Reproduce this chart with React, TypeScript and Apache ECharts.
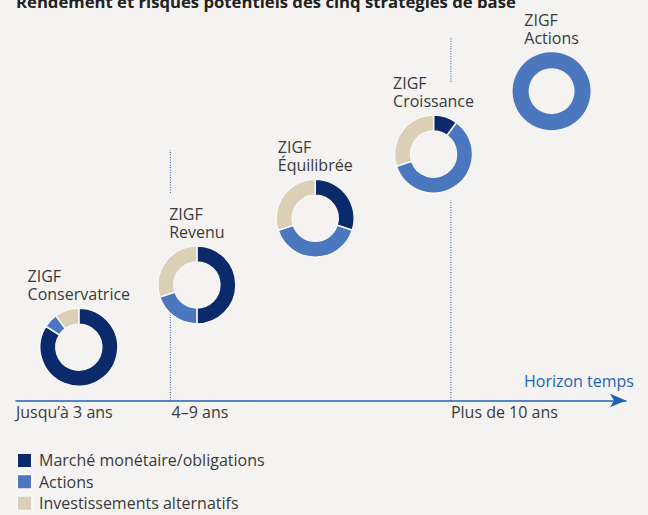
import React, { useEffect, useRef } from "react";
import * as echarts from "echarts";

// ---- Data ----
const strategies = ["Conservatrice", "Revenu", "Équilibrée", "Croissance", "Actions"];
const assetClasses = ["Marché monétaire/obligations", "Actions", "Investissements alternatifs"];
const moneyMarketBonds = [84, 50, 30, 10, 0];
const equities = [6, 20, 40, 60, 100];
const alternatives = [10, 30, 30, 30, 0];
// position of each strategy on the time horizon (x) and risk/return level (y)
const horizonPos = [10.3, 29.65, 49.05, 68.45, 87.8];
const riskLevel = [14.4, 31.2, 49.2, 66.5, 83.5];
const tickLabels = ["Jusqu’à 3 ans", "4–9 ans", "Plus de 10 ans"];
const tickValues = [0, 25.5, 71.3];
// dotted separators: [x, yFrom, yTo]
const separators = [
  [25.3, 0, 23.1],
  [25.3, 56.0, 67.6],
  [71.3, 0, 54.1],
  [71.3, 86.0, 97.8],
];

const BG = "#f4f3f1";
const COLORS = ["#0b2a6c", "#4a77bd", "#dbcfb6"];
const TEXT = "#3a3a3a";
const AXIS_BLUE = "#1f63b5";
const FONT = '"Open Sans", "Noto Sans", sans-serif';

function measure(text: string, font: string): number {
  const c = document.createElement("canvas");
  const ctx = c.getContext("2d")!;
  ctx.font = font;
  return ctx.measureText(text).width;
}

export default function App() {
  const ref = useRef<HTMLDivElement>(null);

  useEffect(() => {
    if (!ref.current) return;
    const chart = echarts.init(ref.current, null, { renderer: "svg" });

    const separatorSeries = separators.map((s, i) => ({
      type: "line" as const,
      name: `sep${i}`,
      data: [
        [s[0], s[1]],
        [s[0], s[2]],
      ],
      symbol: "none",
      silent: true,
      lineStyle: { color: "#2d4f8f", width: 1, type: [1, 1.5] as any },
      z: 1,
    }));

    chart.setOption({
      animation: false,
      backgroundColor: BG,
      grid: { left: 16, right: 22, top: 30, bottom: 114.5 },
      xAxis: {
        type: "value",
        min: 0,
        max: 100,
        splitLine: { show: false },
        axisTick: { show: false },
        axisLine: {
          show: true,
          symbol: ["none", "arrow"],
          symbolSize: [10, 16],
          lineStyle: { color: AXIS_BLUE, width: 1.5 },
        },
        axisLabel: {
          customValues: tickValues,
          formatter: (v: number) => {
            let best = 0;
            tickValues.forEach((t, i) => {
              if (Math.abs(t - v) < Math.abs(tickValues[best] - v)) best = i;
            });
            return tickLabels[best];
          },
          align: "left",
          color: TEXT,
          fontSize: 16,
          fontFamily: FONT,
          margin: 3,
          showMinLabel: true,
          showMaxLabel: true,
        },
        name: "Horizon temps",
        nameLocation: "end",
        nameGap: 8,
        nameTextStyle: {
          color: AXIS_BLUE,
          fontSize: 16,
          fontFamily: FONT,
          align: "right",
          verticalAlign: "bottom",
          padding: [0, 0, 12, 0],
        },
      },
      yAxis: { type: "value", min: 0, max: 100, show: false },
      legend: {
        orient: "vertical",
        left: 16,
        bottom: 3.3,
        height: 70,
        padding: 0,
        icon: "rect",
        itemWidth: 15,
        itemHeight: 15,
        itemGap: 4.4,
        selectedMode: false,
        data: assetClasses,
        textStyle: {
          color: TEXT,
          fontSize: 16,
          lineHeight: 15,
          fontFamily: FONT,
          padding: [0, 0, 0, 2],
        },
      },
      series: separatorSeries,
    });

    const centers = strategies.map((_, i) =>
      chart.convertToPixel({ gridIndex: 0 }, [horizonPos[i], riskLevel[i]]) as number[]
    );

    const pies = strategies.map((name, i) => {
      const vals = [moneyMarketBonds[i], equities[i], alternatives[i]];
      const data = assetClasses
        .map((cls, k) => ({ name: cls, value: vals[k], itemStyle: { color: COLORS[k] } }))
        .filter((d) => d.value > 0);
      return {
        type: "pie" as const,
        name: `ZIGF ${name}`,
        center: centers[i],
        radius: [23, 39],
        startAngle: 90,
        clockwise: true,
        silent: true,
        label: { show: false },
        labelLine: { show: false },
        itemStyle: { borderColor: "#f7f7f5", borderWidth: data.length > 1 ? 1.5 : 0 },
        data,
      };
    });

    const labelFont = `16px ${FONT}`;
    const labels = strategies.map((name, i) => {
      const w = Math.max(measure("ZIGF", labelFont), measure(name, labelFont));
      return {
        type: "text",
        x: centers[i][0] - w / 2,
        y: centers[i][1] - 44,
        silent: true,
        style: {
          text: `ZIGF\n${name}`,
          font: labelFont,
          fill: TEXT,
          lineHeight: 18,
          align: "left",
          verticalAlign: "bottom",
        },
      };
    });

    chart.setOption({
      series: [...separatorSeries, ...pies],
      graphic: [
        {
          type: "text",
          x: 16,
          y: 1,
          silent: true,
          style: {
            text: "Rendement et risques potentiels des cinq stratégies de base",
            font: `bold 16.7px ${FONT}`,
            fill: "#222222",
            verticalAlign: "middle",
          },
        },
        ...labels,
      ],
    });

    return () => chart.dispose();
  }, []);

  return (
    <>
      <style>{`body{margin:0;background:${BG};}`}</style>
      <div ref={ref} style={{ width: 648, height: 515 }} />
    </>
  );
}
